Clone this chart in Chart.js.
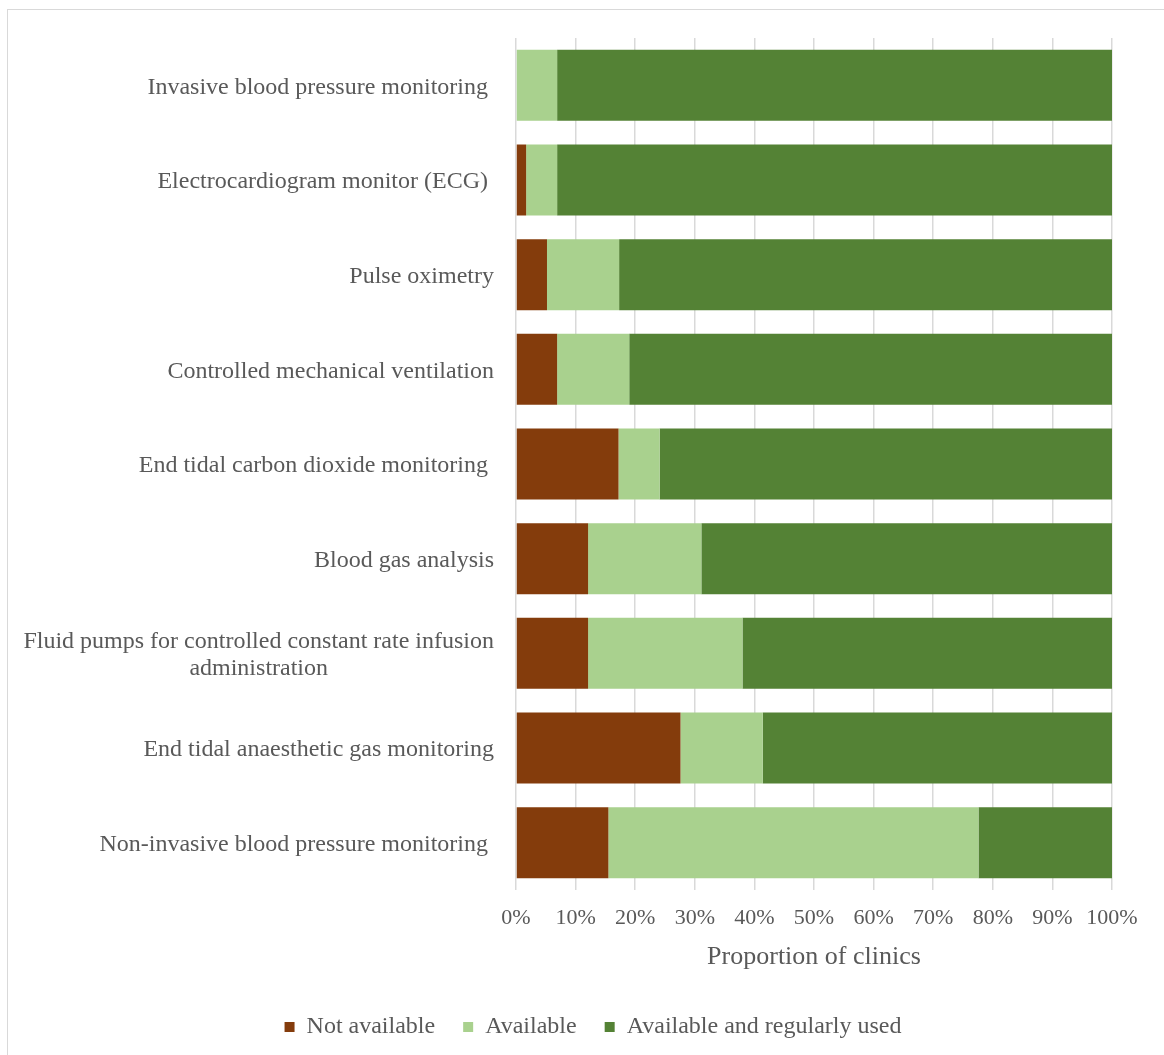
<!DOCTYPE html>
<html>
<head>
<meta charset="utf-8">
<script src="https://cdn.jsdelivr.net/npm/chart.js@4.4.1/dist/chart.umd.min.js"></script>
<style>
    html, body { margin: 0; padding: 0; background: #fff; }
    #frame {
        position: absolute; left: 7px; top: 9px; width: 1200px; height: 1100px;
        border: 1px solid #d9d9d9; box-sizing: border-box;
    }
    #wrap { position: absolute; left: 0; top: 0; width: 1164px; height: 1055px; }
</style>
</head>
<body>
<div id="frame"></div>
<div id="wrap"><canvas id="chart" width="1164" height="1055"></canvas></div>
<script>
const categories = [
    ['Invasive blood pressure monitoring '],
    ['Electrocardiogram monitor (ECG) '],
    ['Pulse oximetry'],
    ['Controlled mechanical ventilation'],
    ['End tidal carbon dioxide monitoring '],
    ['Blood gas analysis'],
    ['Fluid pumps for controlled constant rate infusion', 'administration'],
    ['End tidal anaesthetic gas monitoring'],
    ['Non-invasive blood pressure monitoring ']
];
const notAvailable = [0, 1.7, 5.2, 6.9, 17.2, 12.1, 12.1, 27.6, 15.5];
const available = [6.9, 5.2, 12.1, 12.1, 6.9, 19.0, 25.9, 13.8, 62.1];
const regularlyUsed = [93.1, 93.1, 82.7, 81.0, 75.9, 68.9, 62.0, 58.6, 22.4];

const FONT = '"Liberation Serif", "Times New Roman", serif';
const TEXT = '#595959';

// category names drawn left of the bars, multi-line ones centred as a block
const categoryLabels = {
    id: 'categoryLabels',
    afterDraw(chart) {
        const ctx = chart.ctx;
        const y = chart.scales.y;
        const right = 494;
        const lineH = 27;
        ctx.save();
        ctx.font = '24px ' + FONT;
        ctx.fillStyle = TEXT;
        ctx.textBaseline = 'middle';
        ctx.textAlign = 'center';
        categories.forEach((lines, i) => {
            const cy = y.getPixelForValue(i) + 2;
            const w = Math.max(...lines.map(l => ctx.measureText(l).width));
            const top = cy - (lines.length - 1) * lineH / 2;
            lines.forEach((l, j) => {
                ctx.fillText(l, right - w / 2, top + j * lineH);
            });
        });
        ctx.restore();
    }
};

const ctx = document.getElementById('chart').getContext('2d');
new Chart(ctx, {
    type: 'bar',
    data: {
        labels: categories.map(c => c.join(' ')),
        datasets: [
            { label: 'Not available', data: notAvailable, backgroundColor: '#843c0c' },
            { label: 'Available', data: available, backgroundColor: '#a9d18e' },
            { label: 'Available and regularly used', data: regularlyUsed, backgroundColor: '#548235' }
        ]
    },
    options: {
        indexAxis: 'y',
        responsive: false,
        animation: false,
        datasets: { bar: { categoryPercentage: 1, barPercentage: 0.75, borderWidth: 0 } },
        layout: { padding: { left: 74, right: 52, top: 38, bottom: 6 } },
        plugins: {
            tooltip: { enabled: false },
            legend: {
                position: 'bottom',
                labels: {
                    font: { family: FONT, size: 24 },
                    color: TEXT,
                    boxWidth: 10,
                    boxHeight: 10,
                    padding: 28
                }
            }
        },
        scales: {
            x: {
                stacked: true,
                min: 0,
                max: 100,
                grid: { color: '#d9d9d9', lineWidth: 1.5, drawTicks: false },
                border: { display: false },
                ticks: {
                    stepSize: 10,
                    padding: 15,
                    color: TEXT,
                    font: { family: FONT, size: 22 },
                    callback: v => v + '%'
                },
                title: {
                    display: true,
                    text: 'Proportion of clinics',
                    color: TEXT,
                    font: { family: FONT, size: 26 },
                    padding: { top: 10, bottom: 14 }
                },
                afterFit: s => { s.height = 97; }
            },
            y: {
                stacked: true,
                grid: { display: false },
                border: { display: false },
                ticks: { display: false },
                afterFit: s => { s.width = 442; }
            }
        }
    },
    plugins: [categoryLabels]
});
</script>
</body>
</html>
